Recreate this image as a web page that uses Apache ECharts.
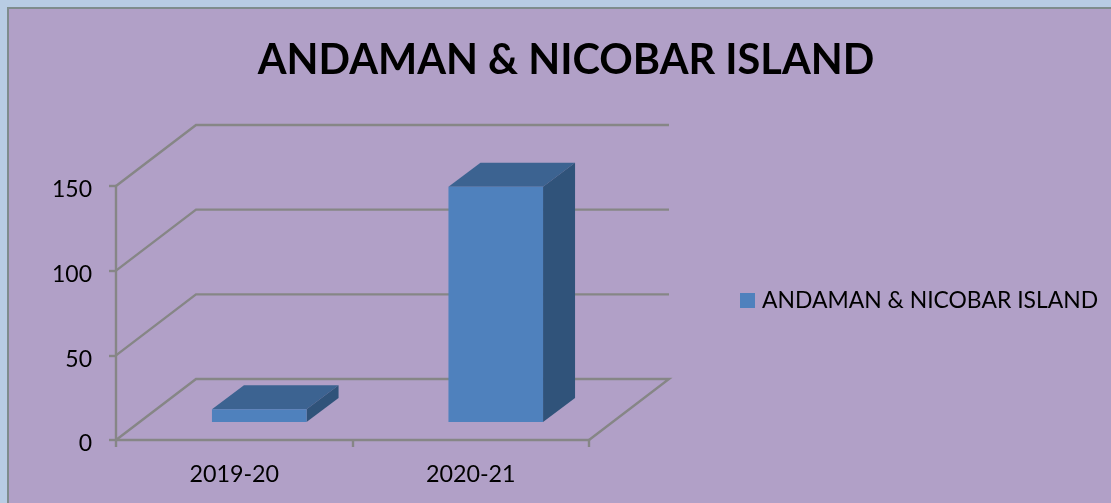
<!DOCTYPE html>
<html>
<head>
<meta charset="utf-8">
<style>
  html, body { margin: 0; padding: 0; background: #b8cce4; overflow: hidden; }
  #chart { width: 1111px; height: 503px; }
</style>
<script src="https://cdn.jsdelivr.net/npm/echarts@6/dist/echarts.min.js"></script>
</head>
<body>
<div id="chart"></div>
<script>
  const categories = ['2019-20', '2020-21'];
  const seriesName = 'ANDAMAN & NICOBAR ISLAND';
  const values = [7.5, 139];
  const wallTicks = [0, 50, 100, 150];

  const FONT = 'Lato';
  const LINE = '#868686';
  const LINE_WIDTH = 2.4;
  // pretend 3d: pixel shift of the back wall and of the bar depth
  const WALL_DX = 80, WALL_DY = -61;
  const BAR_SHIFT_X = 25, BAR_SHIFT_Y = -18;
  const BAR_DX = 32, BAR_DY = -24;

  const renderWall = function (params, api) {
    const box = params.coordSys;
    const y = api.coord([0, api.value(0)])[1];
    const left = box.x;
    const right = box.x + box.width;
    const points = [
      [left, y],
      [left + WALL_DX, y + WALL_DY],
      [right + WALL_DX, y + WALL_DY]
    ];
    // the floor closes back to the front corner
    if (api.value(0) === 0) {
      points.push([right, y]);
    }
    return {
      type: 'polyline',
      shape: { points: points },
      style: { fill: null, stroke: LINE, lineWidth: LINE_WIDTH },
      silent: true
    };
  };

  const renderBar = function (params, api) {
    const top = api.coord([api.value(0), api.value(1)]);
    const base = api.coord([api.value(0), 0]);
    const width = api.size([1, 0])[0] * 0.4;
    const x0 = top[0] - width / 2 + BAR_SHIFT_X;
    const x1 = x0 + width;
    const y0 = base[1] + BAR_SHIFT_Y;
    const y1 = top[1] + BAR_SHIFT_Y;
    return {
      type: 'group',
      children: [
        {
          type: 'polygon',
          shape: { points: [[x0, y1], [x1, y1], [x1 + BAR_DX, y1 + BAR_DY], [x0 + BAR_DX, y1 + BAR_DY]] },
          style: { fill: '#3c6391' }
        },
        {
          type: 'polygon',
          shape: { points: [[x1, y0], [x1, y1], [x1 + BAR_DX, y1 + BAR_DY], [x1 + BAR_DX, y0 + BAR_DY]] },
          style: { fill: '#30537a' }
        },
        {
          type: 'rect',
          shape: { x: x0, y: y1, width: width, height: y0 - y1 },
          style: { fill: '#4f81bd' }
        }
      ]
    };
  };

  const chart = echarts.init(document.getElementById('chart'), null, { renderer: 'canvas' });
  chart.setOption({
    animation: false,
    backgroundColor: '#b8cce4',
    graphic: [{
      type: 'rect',
      z: -10,
      shape: { x: 8, y: 8, width: 1120, height: 510 },
      style: { fill: '#b1a0c7', stroke: '#7f8c8d', lineWidth: 2 },
      silent: true
    }],
    title: {
      text: seriesName,
      left: 561,
      top: 35,
      textAlign: 'center',
      textStyle: { fontFamily: FONT, fontWeight: 'bold', fontSize: 41.5, color: '#000' }
    },
    legend: {
      left: 735,
      top: 284,
      icon: 'rect',
      itemWidth: 15,
      itemHeight: 15,
      textStyle: { fontFamily: FONT, fontSize: 22.9, color: '#000', padding: [0, 0, 0, 2] },
      data: [{ name: seriesName, itemStyle: { color: '#4f81bd' } }]
    },
    grid: { left: 116, top: 186, width: 473, height: 254 },
    xAxis: {
      type: 'category',
      data: categories,
      axisLine: { lineStyle: { color: LINE, width: LINE_WIDTH } },
      axisTick: { show: true, length: 7, lineStyle: { color: LINE, width: LINE_WIDTH } },
      axisLabel: { fontFamily: FONT, fontSize: 23.3, color: '#000', margin: 23 },
      splitLine: { show: false }
    },
    yAxis: {
      type: 'value',
      min: 0,
      max: 150,
      interval: 50,
      axisLine: { show: true, lineStyle: { color: LINE, width: LINE_WIDTH } },
      axisTick: { show: true, length: 7, lineStyle: { color: LINE, width: LINE_WIDTH } },
      // labels sit a little below their ticks in the original
      axisLabel: { fontFamily: FONT, fontSize: 23, color: '#000', margin: 24, verticalAlign: 'top', lineHeight: 8 },
      splitLine: { show: false }
    },
    series: [
      {
        type: 'custom',
        name: 'wall',
        coordinateSystem: 'cartesian2d',
        clip: false,
        z: 1,
        silent: true,
        encode: { y: 0 },
        data: wallTicks.map(function (v) { return [v]; }),
        renderItem: renderWall
      },
      {
        type: 'custom',
        name: seriesName,
        coordinateSystem: 'cartesian2d',
        clip: false,
        z: 3,
        itemStyle: { color: '#4f81bd' },
        encode: { x: 0, y: 1 },
        data: values.map(function (v, i) { return [i, v]; }),
        renderItem: renderBar
      }
    ]
  });
</script>
</body>
</html>
